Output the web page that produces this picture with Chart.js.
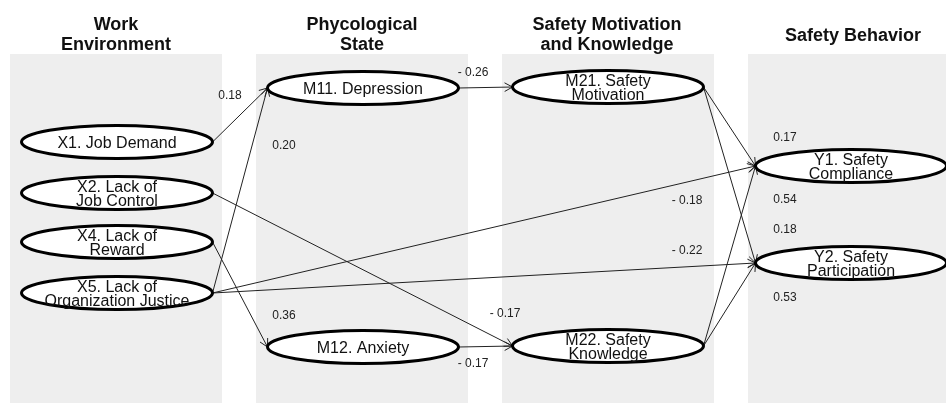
<!DOCTYPE html>
<html>
<head>
<meta charset="utf-8">
<script src="https://cdn.jsdelivr.net/npm/chart.js@4/dist/chart.umd.min.js"></script>
<style>
  html, body { margin: 0; padding: 0; background: #ffffff; }
  #wrap { width: 946px; height: 403px; position: relative; }
</style>
</head>
<body>
<div id="wrap"><canvas id="c"></canvas></div>
<script>
// ---- data ----
const columnTitles = [["Work", "Environment"], ["Phycological", "State"], ["Safety Motivation", "and Knowledge"], ["Safety Behavior"]];
const nodeIds = ["X1", "X2", "X4", "X5", "M11", "M12", "M21", "M22", "Y1", "Y2"];
const nodeLabels = [
  ["X1. Job Demand"],
  ["X2. Lack of", "Job Control"],
  ["X4. Lack of", "Reward"],
  ["X5. Lack of", "Organization Justice"],
  ["M11. Depression"],
  ["M12. Anxiety"],
  ["M21. Safety", "Motivation"],
  ["M22. Safety", "Knowledge"],
  ["Y1. Safety", "Compliance"],
  ["Y2. Safety", "Participation"]
];
const nodeColumn = [0, 0, 0, 0, 1, 1, 2, 2, 3, 3];
const edgeFrom = ["X1", "X5", "X4", "X2", "X5", "X5", "M11", "M12", "M21", "M22", "M21", "M22"];
const edgeTo   = ["M11", "M11", "M12", "M22", "Y1", "Y2", "M21", "M22", "Y1", "Y1", "Y2", "Y2"];
const edgeCoef = ["0.18", "0.20", "0.36", "- 0.17", "- 0.18", "- 0.22", "- 0.26", "- 0.17", "0.17", "0.54", "0.18", "0.53"];

// ---- layout (plot units == pixels) ----
const nodeRowY = [142, 193, 242, 293, 88, 347, 87, 346, 166, 263];
const columnNodeX = [117, 363, 608, 851];
const panelLeft = [10, 256, 502, 748];
const panelWidth = 212, panelTop = 54, panelBottom = 403;
const titleX = [116, 362, 607, 853];
const titleBaseY = [30, 30, 30, 41];
const coefLabelX = [230, 284, 284, 505, 687, 687, 473, 473, 785, 785, 785, 785];
const coefLabelY = [96, 146, 316, 314, 201, 251, 73, 364, 138, 200, 230, 298];
const RX = 95.5, RY = 16.5;

const nodeX = i => columnNodeX[nodeColumn[i]];
const idx = id => nodeIds.indexOf(id);

const datasets = edgeFrom.map((f, k) => {
  const a = idx(f), b = idx(edgeTo[k]);
  return {
    label: f + "->" + edgeTo[k],
    data: [{ x: nodeX(a) + RX, y: nodeRowY[a] }, { x: nodeX(b) - RX, y: nodeRowY[b] }],
    showLine: true,
    borderColor: "#222222",
    borderWidth: 1,
    pointRadius: 0,
    fill: false,
    tension: 0
  };
});

const FONT = "'Liberation Sans', Arial, Helvetica, sans-serif";

const diagramPlugin = {
  id: "diagram",
  beforeDatasetsDraw(chart) {
    const { ctx, scales: { x, y } } = chart;
    ctx.save();
    ctx.fillStyle = "#eeeeee";
    panelLeft.forEach(l => {
      const x0 = x.getPixelForValue(l), x1 = x.getPixelForValue(l + panelWidth);
      const y0 = y.getPixelForValue(panelTop), y1 = y.getPixelForValue(panelBottom);
      ctx.fillRect(x0, y0, x1 - x0, y1 - y0);
    });
    ctx.fillStyle = "#111111";
    ctx.font = "bold 18px " + FONT;
    ctx.textAlign = "center";
    ctx.textBaseline = "alphabetic";
    columnTitles.forEach((lines, c) => {
      lines.forEach((t, j) => {
        ctx.fillText(t, x.getPixelForValue(titleX[c]), y.getPixelForValue(titleBaseY[c] + j * 20));
      });
    });
    ctx.restore();
  },
  afterDatasetsDraw(chart) {
    const { ctx, scales: { x, y } } = chart;
    ctx.save();
    // arrowheads
    ctx.strokeStyle = "#222222";
    ctx.lineWidth = 1;
    chart.data.datasets.forEach(ds => {
      const p0 = ds.data[0], p1 = ds.data[1];
      const ax = x.getPixelForValue(p0.x), ay = y.getPixelForValue(p0.y);
      const bx = x.getPixelForValue(p1.x), by = y.getPixelForValue(p1.y);
      const ang = Math.atan2(by - ay, bx - ax);
      const L = 9, w = 0.5;
      ctx.beginPath();
      ctx.moveTo(bx - L * Math.cos(ang - w), by - L * Math.sin(ang - w));
      ctx.lineTo(bx, by);
      ctx.lineTo(bx - L * Math.cos(ang + w), by - L * Math.sin(ang + w));
      ctx.stroke();
    });
    // nodes
    nodeIds.forEach((id, i) => {
      const cx = x.getPixelForValue(nodeX(i)), cy = y.getPixelForValue(nodeRowY[i]);
      const rx = Math.abs(x.getPixelForValue(nodeX(i) + RX) - cx);
      const ry = Math.abs(y.getPixelForValue(nodeRowY[i] + RY) - cy);
      ctx.beginPath();
      ctx.ellipse(cx, cy, rx, ry, 0, 0, Math.PI * 2);
      ctx.fillStyle = "#ffffff";
      ctx.fill();
      ctx.lineWidth = 3;
      ctx.strokeStyle = "#000000";
      ctx.stroke();
      ctx.fillStyle = "#111111";
      ctx.font = "16px " + FONT;
      ctx.textAlign = "center";
      ctx.textBaseline = "alphabetic";
      const lines = nodeLabels[i];
      if (lines.length === 1) {
        ctx.fillText(lines[0], cx, cy + 5.5);
      } else {
        ctx.fillText(lines[0], cx, cy - 1.5);
        ctx.fillText(lines[1], cx, cy + 12.5);
      }
    });
    // coefficients
    ctx.fillStyle = "#222222";
    ctx.font = "12px " + FONT;
    ctx.textAlign = "center";
    ctx.textBaseline = "middle";
    edgeCoef.forEach((t, k) => {
      ctx.fillText(t, x.getPixelForValue(coefLabelX[k]), y.getPixelForValue(coefLabelY[k]));
    });
    ctx.restore();
  }
};

new Chart(document.getElementById("c"), {
  type: "scatter",
  data: { datasets },
  options: {
    responsive: true,
    maintainAspectRatio: false,
    animation: false,
    events: [],
    layout: { padding: 0 },
    plugins: { legend: { display: false }, tooltip: { enabled: false }, title: { display: false } },
    scales: {
      x: { type: "linear", min: 0, max: 946, display: false },
      y: { type: "linear", min: 0, max: 403, reverse: true, display: false }
    }
  },
  plugins: [diagramPlugin]
});
</script>
</body>
</html>
